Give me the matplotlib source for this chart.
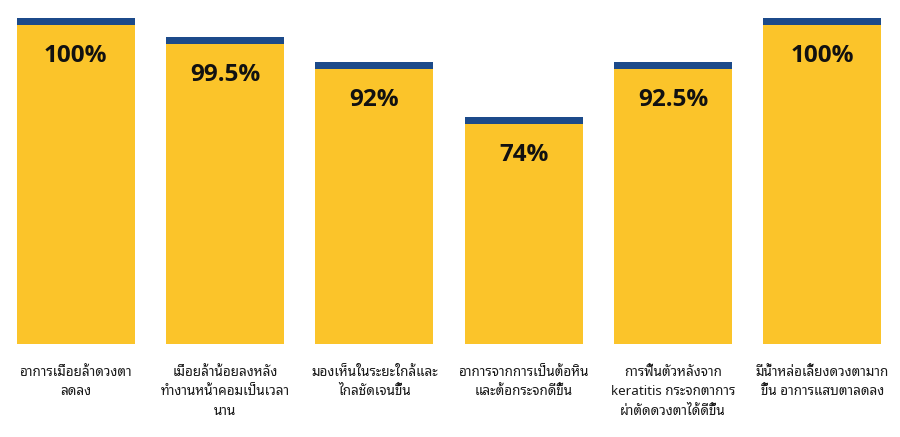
import matplotlib
matplotlib.use("Agg")
import matplotlib.pyplot as plt

# ข้อความใต้แท่ง (ตัดบรรทัดตามภาพต้นฉบับ)
categories = [
    "อาการเมื่อยล้าดวงตา\nลดลง",
    "เมื่อยล้าน้อยลงหลัง\nทำงานหน้าคอมเป็นเวลา\nนาน",
    "มองเห็นในระยะใกล้และ\nไกลชัดเจนขึ้น",
    "อาการจากการเป็นต้อหิน\nและต้อกระจกดีขึ้น",
    "การฟื้นตัวหลังจาก\nkeratitis กระจกตาการ\nผ่าตัดดวงตาได้ดีขึ้น",
    "มีน้ำหล่อเลี้ยงดวงตามาก\nขึ้น อาการแสบตาลดลง",
]
# ความสูงของแท่งตามที่วัดจากภาพ
bar_heights = [100, 94.2, 86.5, 69.6, 86.5, 100]
value_labels = ["100%", "99.5%", "92%", "74%", "92.5%", "100%"]

YELLOW = "#FBC42A"
BLUE = "#1C4A8A"
cap = 2.15  # แถบสีน้ำเงินด้านบน

fig = plt.figure(figsize=(9, 4.37), dpi=100)
ax = fig.add_axes([1.0 / 900, 93.0 / 437, 896.0 / 900, 326.0 / 437])

x = list(range(len(categories)))
ax.bar(x, bar_heights, width=0.79, color=BLUE, linewidth=0)
ax.bar(x, [h - cap for h in bar_heights], width=0.79, color=YELLOW, linewidth=0)

for i, h in enumerate(bar_heights):
    ax.annotate(value_labels[i], (i, h), xytext=(0, -27.5), textcoords="offset points",
                ha="center", va="center", fontsize=17.5, fontweight="bold",
                family=["Open Sans", "DejaVu Sans"], color="#111111")
    ax.annotate(categories[i], (i, 0), xytext=(0, -15.5), textcoords="offset points",
                ha="center", va="top", fontsize=9.7, linespacing=1.68,
                family=["Noto Sans Thai Looped", "Open Sans", "DejaVu Sans"],
                color="#1a1a1a", annotation_clip=False)

ax.set_xlim(-0.5, 5.5)
ax.set_ylim(0, 100)
ax.axis("off")

fig.savefig("out.png", dpi=100)
